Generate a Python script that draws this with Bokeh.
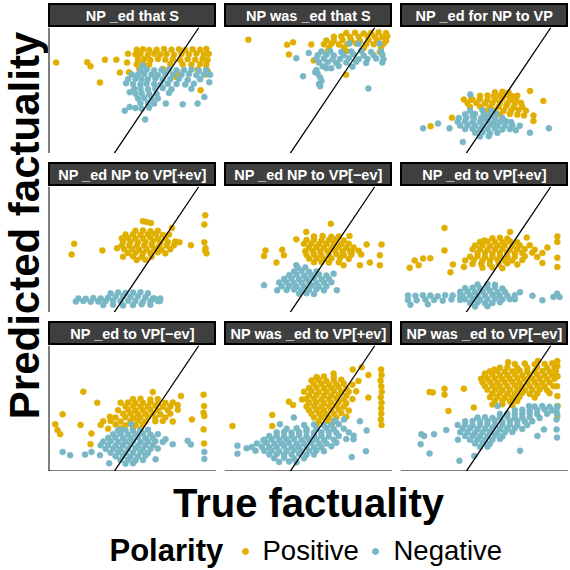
from bokeh.plotting import figure
from bokeh.layouts import row, column
from bokeh.models import Range1d, Slope, Span, Spacer
from bokeh.core.properties import value
from bokeh.embed import file_html
from bokeh.resources import INLINE

facets = [
    "NP _ed that S", "NP was _ed that S", "NP _ed for NP to VP",
    "NP _ed NP to VP[+ev]", "NP _ed NP to VP[\u2212ev]", "NP _ed to VP[+ev]",
    "NP _ed to VP[\u2212ev]", "NP was _ed to VP[+ev]", "NP was _ed to VP[\u2212ev]",
]
polarity = ["Positive", "Negative"]
colors = ["#E1AF00", "#78B7C5"]

# (true, predicted) pairs, one list per facet and polarity
p1_pos = [
    (-3.09, 1.70), (-1.84, 1.71), (-1.71, 1.60), (-1.13, 1.78), (-0.67, 1.78),
    (-1.33, 1.16), (-0.53, 1.43), (-0.20, 1.94), (0.20, 1.94), (-0.24, 1.70),
    (-0.16, 1.44), (1.73, 1.31), (2.72, 0.95),
    (0.15, 2.05), (0.40, 2.06), (0.65, 2.04), (0.95, 2.05), (1.25, 2.07), (1.55, 2.05),
    (1.85, 2.06), (2.10, 2.04), (2.40, 2.06), (2.70, 2.05), (2.95, 2.07),
    (0.10, 1.92), (0.30, 1.93), (0.60, 1.91), (0.85, 1.94), (1.10, 1.92), (1.35, 1.93),
    (1.65, 1.91), (1.95, 1.93), (2.25, 1.92), (2.55, 1.94), (2.85, 1.92), (3.05, 1.93),
    (0.20, 1.78), (0.45, 1.79), (0.70, 1.77), (1.00, 1.80), (1.30, 1.78), (1.60, 1.79),
    (1.90, 1.77), (2.20, 1.79), (2.50, 1.78), (2.80, 1.80), (3.00, 1.77),
    (0.15, 1.65), (0.40, 1.66), (0.65, 1.64), (1.50, 1.66), (2.00, 1.65), (2.35, 1.64),
    (2.70, 1.66), (2.95, 1.65),
    (0.25, 1.52), (1.20, 1.53), (2.60, 1.51), (2.95, 1.53), (3.02, 1.45), (2.95, 1.38),
    (1.80, 1.42),
]
p1_neg = [
    (0.30, 1.50), (0.55, 1.51), (0.85, 1.49), (1.15, 1.50), (1.45, 1.52), (1.75, 1.49),
    (2.05, 1.50), (2.35, 1.51), (2.65, 1.48), (2.95, 1.50),
    (-0.05, 1.38), (0.20, 1.37), (0.45, 1.39), (0.75, 1.38), (1.00, 1.36), (1.30, 1.39),
    (1.60, 1.38), (1.95, 1.37), (2.25, 1.39), (2.55, 1.36), (2.85, 1.38), (3.10, 1.37),
    (-0.20, 1.25), (0.10, 1.26), (0.35, 1.24), (0.60, 1.25), (0.90, 1.27), (1.20, 1.24),
    (1.50, 1.25), (1.85, 1.26), (2.20, 1.23), (2.70, 1.25),
    (0.00, 1.12), (0.30, 1.11), (0.55, 1.13), (0.85, 1.12), (1.10, 1.10), (1.40, 1.13),
    (1.75, 1.12), (2.10, 1.11), (2.45, 1.13),
    (0.05, 0.99), (0.30, 1.00), (0.60, 0.98), (0.90, 0.99), (1.20, 1.01), (1.55, 0.98),
    (2.35, 0.99),
    (0.10, 0.86), (0.35, 0.87), (0.65, 0.85), (0.95, 0.86), (1.45, 0.88),
    (0.20, 0.73), (0.45, 0.74), (0.75, 0.72), (1.00, 0.73),
    (0.30, 0.60), (0.60, 0.61), (0.85, 0.59),
    (0.10, 0.47), (0.35, 0.45), (0.65, 0.48),
    (0.49, 0.16), (-0.13, 0.50), (-0.33, 0.40), (3.07, 1.17), (2.87, 0.77), (2.60, 0.59),
    (2.00, 0.57), (1.32, 0.59), (-0.28, 1.14), (-0.13, 0.90), (0.40, 1.62),
]

p2_pos = [
    (-2.44, 2.32), (-0.88, 2.18), (-0.64, 2.25), (-0.81, 1.92), (0.09, 2.19),
    (0.19, 1.76), (1.49, 1.37),
    (1.50, 2.50), (1.85, 2.51), (2.20, 2.49), (2.50, 2.50), (2.80, 2.52), (3.10, 2.50),
    (1.00, 2.40), (1.30, 2.41), (1.65, 2.39), (2.00, 2.40), (2.35, 2.42), (2.65, 2.40),
    (2.95, 2.39), (3.15, 2.41),
    (0.70, 2.30), (1.00, 2.29), (1.35, 2.31), (1.70, 2.30), (2.05, 2.28), (2.40, 2.31),
    (2.75, 2.30), (3.10, 2.29),
    (0.60, 2.20), (0.90, 2.21), (1.20, 2.19), (1.55, 2.20), (1.90, 2.22), (2.30, 2.19),
    (2.60, 2.20), (3.00, 2.21),
    (0.80, 2.10), (1.40, 2.11), (2.20, 2.09), (2.90, 2.10),
    (0.75, 2.00), (1.50, 2.01), (2.85, 1.99),
]
p2_neg = [
    (1.63, 2.22), (1.99, 2.21), (2.84, 2.21),
    (0.50, 2.00), (0.85, 2.01), (1.30, 1.99), (1.70, 2.00), (2.10, 2.02), (2.50, 1.99), (2.90, 2.00),
    (0.35, 1.90), (0.70, 1.91), (1.00, 1.89), (1.40, 1.90), (1.80, 1.92), (2.20, 1.89),
    (2.60, 1.90), (2.95, 1.91),
    (0.30, 1.80), (0.60, 1.81), (0.95, 1.79), (1.25, 1.80), (1.60, 1.82), (2.00, 1.79),
    (2.35, 1.80), (2.70, 1.81), (3.00, 1.79),
    (0.40, 1.70), (0.75, 1.71), (1.10, 1.69), (1.50, 1.70), (1.90, 1.72), (2.30, 1.69), (2.95, 1.70),
    (0.55, 1.60), (1.20, 1.61), (1.75, 1.59),
    (0.30, 1.50), (0.35, 1.40), (0.45, 1.30), (0.50, 1.20), (0.40, 1.12), (0.70, 1.55), (0.90, 1.55),
    (-0.51, 1.82), (-0.01, 1.96), (-0.24, 1.33), (2.39, 1.00), (0.45, 1.06), (0.25, 1.44),
]

p3_pos = [
    (1.81, 0.93), (2.35, 0.66), (1.95, 0.27), (1.95, 0.12), (-1.33, 0.21), (-2.19, -0.02),
    (1.57, 0.27), (-0.85, 0.70), (-0.56, 0.70),
    (0.40, 0.90), (0.70, 0.91), (0.95, 0.89),
    (-0.20, 0.80), (0.10, 0.81), (0.35, 0.79), (0.60, 0.80), (0.85, 0.82), (1.10, 0.79), (1.30, 0.80),
    (-0.50, 0.70), (-0.20, 0.71), (0.10, 0.69), (0.40, 0.70), (0.70, 0.72), (1.00, 0.69), (1.25, 0.70),
    (-0.70, 0.60), (-0.35, 0.61), (0.00, 0.59), (0.30, 0.60), (0.60, 0.62), (0.90, 0.59),
    (1.20, 0.60), (1.45, 0.61),
    (-0.60, 0.50), (-0.20, 0.51), (0.20, 0.49), (0.55, 0.50), (0.85, 0.52), (1.15, 0.49), (1.50, 0.50),
    (0.00, 0.40), (0.40, 0.41), (0.75, 0.39), (1.05, 0.40), (1.35, 0.42), (1.65, 0.40),
    (0.60, 0.30), (1.00, 0.31), (1.30, 0.29),
]
p3_neg = [
    (-0.60, 0.40), (-0.10, 0.41), (0.25, 0.39),
    (-0.80, 0.30), (-0.40, 0.31), (-0.05, 0.29), (0.20, 0.30), (0.45, 0.32),
    (-1.05, 0.20), (-0.75, 0.21), (-0.45, 0.19), (-0.15, 0.20), (0.15, 0.22), (0.40, 0.19), (0.70, 0.20),
    (-1.10, 0.10), (-0.80, 0.11), (-0.50, 0.09), (-0.20, 0.10), (0.10, 0.12), (0.35, 0.09),
    (0.60, 0.10), (0.85, 0.11), (1.05, 0.09),
    (-1.00, 0.00), (-0.70, 0.01), (-0.40, -0.01), (-0.10, 0.00), (0.20, 0.02), (0.50, -0.01),
    (0.80, 0.00), (1.10, 0.01), (1.40, -0.01),
    (-0.80, -0.10), (-0.50, -0.09), (-0.20, -0.11), (0.10, -0.10), (0.40, -0.08), (0.70, -0.11), (1.00, -0.10),
    (-0.40, -0.20), (-0.10, -0.19), (0.20, -0.21), (0.50, -0.20),
    (-0.20, -0.30), (0.15, -0.29),
    (-2.49, -0.08), (-1.89, 0.05), (-1.43, -0.08), (-0.59, 0.84), (-0.89, -0.45), (2.57, -0.08),
    (1.81, -0.20), (1.24, -0.13), (-0.05, 0.18), (-0.49, 0.27),
]

p4_pos = [
    (-2.47, 0.81), (-2.37, 1.10), (-1.23, 0.92), (-0.64, 0.98), (2.91, 1.87), (2.87, 1.62),
    (2.87, 1.14), (2.92, 0.98), (2.96, 0.84), (2.90, 0.92), (1.87, 1.14), (2.33, 1.06),
    (1.57, 1.53), (0.40, 1.71), (0.72, 1.66), (0.55, 1.69),
    (0.10, 1.45), (0.40, 1.46), (0.70, 1.44), (1.00, 1.45),
    (-0.30, 1.35), (0.00, 1.36), (0.30, 1.34), (0.60, 1.35), (0.90, 1.37), (1.20, 1.34), (1.45, 1.35),
    (-0.45, 1.25), (-0.20, 1.26), (0.10, 1.24), (0.40, 1.25), (0.70, 1.27), (1.00, 1.24), (1.30, 1.25),
    (-0.40, 1.15), (-0.10, 1.16), (0.20, 1.14), (0.50, 1.15), (0.80, 1.17), (1.10, 1.14),
    (1.40, 1.15), (1.70, 1.16),
    (-0.45, 1.05), (-0.15, 1.06), (0.15, 1.04), (0.45, 1.05), (0.75, 1.07), (1.05, 1.04),
    (1.35, 1.05), (1.65, 1.06),
    (-0.35, 0.95), (-0.05, 0.96), (0.25, 0.94), (0.55, 0.95), (0.85, 0.97), (1.15, 0.94), (1.50, 0.95),
    (-0.20, 0.85), (0.10, 0.86), (0.40, 0.84), (0.70, 0.85), (1.00, 0.87), (1.30, 0.84),
    (-0.40, 0.75), (0.00, 0.76), (0.35, 0.74), (0.75, 0.75),
    (0.15, 0.66), (0.50, 0.67),
]
p4_neg = [
    (-0.90, -0.24), (-0.60, -0.22), (-0.30, -0.23), (0.00, -0.22), (0.30, -0.21), (0.60, -0.24),
    (-2.20, -0.38), (-1.90, -0.39), (-1.60, -0.37), (-1.30, -0.38), (-1.00, -0.36), (-0.70, -0.33),
    (-0.40, -0.32), (-0.10, -0.34), (0.20, -0.32), (0.50, -0.35), (0.80, -0.38), (1.10, -0.38),
    (-2.30, -0.46), (-2.00, -0.45), (-1.70, -0.47), (-1.40, -0.46), (-1.10, -0.45), (-0.80, -0.44),
    (-0.50, -0.45), (-0.20, -0.44), (0.10, -0.45), (0.40, -0.47), (0.70, -0.46), (1.00, -0.45),
    (-1.20, -0.56), (-0.80, -0.55), (-0.40, -0.57), (0.00, -0.56), (0.35, -0.54), (0.70, -0.55),
    (0.87, -0.38), (1.08, -0.45),
]

p5_pos = [
    (0.88, 1.64), (-0.11, 1.42), (-0.51, 1.22), (-1.08, 0.94), (-1.75, 0.92), (-1.81, 0.77),
    (-1.31, 0.59), (-1.01, 0.79), (1.63, 1.31), (2.32, 1.08), (2.92, 1.08), (2.85, 0.79),
    (2.85, 0.52), (2.45, 0.59), (2.05, 0.52), (1.72, 0.88), (1.39, 0.52),
    (0.20, 1.30), (0.55, 1.31), (0.90, 1.29), (1.20, 1.30),
    (-0.10, 1.20), (0.20, 1.21), (0.50, 1.19), (0.80, 1.20), (1.10, 1.22), (1.40, 1.19),
    (-0.20, 1.10), (0.10, 1.11), (0.40, 1.09), (0.70, 1.10), (1.00, 1.12), (1.30, 1.09), (1.60, 1.10),
    (0.00, 1.00), (0.30, 1.01), (0.60, 0.99), (0.90, 1.00), (1.20, 1.02), (1.50, 0.99), (1.80, 1.00),
    (-0.15, 0.90), (0.15, 0.91), (0.45, 0.89), (0.75, 0.90), (1.05, 0.92), (1.35, 0.89),
    (1.65, 0.90), (2.00, 0.91),
    (-0.10, 0.80), (0.20, 0.81), (0.50, 0.79), (0.80, 0.80), (1.10, 0.82), (1.40, 0.79),
    (1.70, 0.80), (2.10, 0.81),
    (0.00, 0.70), (0.30, 0.71), (0.60, 0.69), (0.90, 0.70), (1.25, 0.72), (1.60, 0.69),
    (0.20, 0.60), (0.50, 0.61), (0.80, 0.59), (1.20, 0.60),
]
p5_neg = [
    (-0.45, 0.45), (-0.15, 0.46),
    (-0.60, 0.35), (-0.30, 0.36), (0.00, 0.34), (0.30, 0.35),
    (-0.80, 0.25), (-0.50, 0.26), (-0.20, 0.24), (0.10, 0.25), (0.40, 0.27), (0.70, 0.24),
    (-1.00, 0.15), (-0.70, 0.16), (-0.40, 0.14), (-0.10, 0.15), (0.20, 0.17), (0.50, 0.14), (0.80, 0.15),
    (-1.20, 0.05), (-0.90, 0.06), (-0.60, 0.04), (-0.30, 0.05), (0.00, 0.07), (0.30, 0.04),
    (0.60, 0.05), (0.90, 0.06),
    (-1.10, -0.05), (-0.80, -0.04), (-0.50, -0.06), (-0.20, -0.05), (0.10, -0.03), (0.40, -0.06), (0.70, -0.05),
    (-0.90, -0.15), (-0.60, -0.14), (-0.30, -0.16), (0.00, -0.15), (0.30, -0.13), (0.60, -0.16),
    (-0.40, -0.25), (-0.10, -0.24), (0.20, -0.26),
    (-1.81, -0.02), (-1.28, -0.16), (-0.51, 0.52), (0.99, 0.29), (1.12, -0.16),
]

p6_pos = [
    (-1.63, 1.53), (-1.63, 0.92), (-3.03, 0.45), (-2.83, 0.65), (-2.49, 0.70), (-2.20, 0.71),
    (-2.67, 0.52), (-1.29, 0.54), (-1.39, 0.33), (-0.85, 0.47), (-0.03, 1.19), (1.01, 1.42),
    (1.68, 1.27), (2.51, 1.00), (2.91, 1.30), (2.91, 1.15), (2.91, 0.72), (2.91, 0.47),
    (2.31, 0.85), (2.31, 0.58),
    (0.30, 1.25), (0.60, 1.26), (0.90, 1.24),
    (-0.20, 1.15), (0.10, 1.16), (0.40, 1.14), (0.70, 1.15), (1.00, 1.17), (1.30, 1.14),
    (-0.40, 1.05), (-0.10, 1.06), (0.20, 1.04), (0.50, 1.05), (0.80, 1.07), (1.10, 1.04),
    (1.40, 1.05), (1.80, 1.06),
    (-0.50, 0.95), (-0.20, 0.96), (0.10, 0.94), (0.40, 0.95), (0.70, 0.97), (1.00, 0.94),
    (1.30, 0.95), (1.60, 0.96), (2.00, 0.94),
    (-0.30, 0.85), (0.00, 0.86), (0.30, 0.84), (0.60, 0.85), (0.90, 0.87), (1.20, 0.84),
    (1.50, 0.85), (1.90, 0.86),
    (-0.60, 0.75), (-0.30, 0.76), (0.00, 0.74), (0.30, 0.75), (0.60, 0.77), (0.90, 0.74),
    (1.20, 0.75), (1.60, 0.76), (2.10, 0.74),
    (-0.80, 0.65), (-0.45, 0.66), (-0.10, 0.64), (0.20, 0.65), (0.50, 0.67), (0.80, 0.64),
    (1.10, 0.65), (1.50, 0.66),
    (-0.50, 0.55), (-0.15, 0.56), (0.20, 0.54), (0.55, 0.55), (0.90, 0.57), (1.30, 0.54),
    (-0.10, 0.45), (0.30, 0.46), (0.70, 0.44),
]
p6_neg = [
    (-3.10, -0.30), (-2.80, -0.31), (-2.50, -0.29), (-2.20, -0.30), (-1.90, -0.32), (-1.60, -0.29),
    (-1.30, -0.30), (-1.00, -0.31),
    (-3.10, -0.42), (-2.75, -0.43), (-2.40, -0.41), (-2.05, -0.42), (-1.70, -0.44), (-1.35, -0.41),
    (-1.00, -0.42),
    (-3.00, -0.55), (-2.30, -0.54),
    (-0.30, 0.00), (0.10, 0.01), (0.40, -0.01),
    (-0.80, -0.10), (-0.50, -0.09), (-0.20, -0.11), (0.10, -0.10), (0.40, -0.08), (0.70, -0.11),
    (-1.00, -0.20), (-0.70, -0.19), (-0.40, -0.21), (-0.10, -0.20), (0.20, -0.18), (0.50, -0.21), (0.80, -0.20),
    (-0.90, -0.30), (-0.60, -0.29), (-0.30, -0.31), (0.00, -0.30), (0.30, -0.28), (0.60, -0.31),
    (0.90, -0.30), (1.20, -0.29),
    (-0.80, -0.40), (-0.50, -0.39), (-0.20, -0.41), (0.10, -0.40), (0.40, -0.38), (0.70, -0.41), (1.00, -0.40),
    (-0.60, -0.50), (-0.30, -0.49), (0.00, -0.51), (0.30, -0.50), (0.60, -0.48),
    (-0.40, -0.60), (0.10, -0.59),
    (1.41, -0.21), (1.91, -0.31), (2.31, -0.43), (2.75, -0.34), (2.90, -0.25), (3.00, -0.34), (1.20, -0.40),
]

p7_pos = [
    (-2.00, 1.40), (-2.83, 0.79), (-3.13, 0.52), (-3.04, 0.36), (-2.93, 0.25), (-2.11, 0.50),
    (-1.44, 1.10), (-0.93, 0.72), (-1.67, 0.27), (-1.71, -0.02), (0.80, 1.39), (1.93, 1.28),
    (2.84, 1.32), (2.86, 1.01), (2.84, 0.83), (2.87, 0.74), (2.84, 0.38), (2.86, 0.00),
    (2.37, 0.65), (1.80, 1.04),
    (0.00, 1.20), (0.30, 1.21), (0.70, 1.19), (1.00, 1.20),
    (-0.50, 1.10), (-0.20, 1.11), (0.10, 1.09), (0.40, 1.10), (0.70, 1.12), (1.00, 1.09),
    (1.30, 1.10), (1.60, 1.11),
    (-0.30, 1.00), (0.00, 1.01), (0.30, 0.99), (0.60, 1.00), (0.90, 1.02), (1.20, 0.99), (1.50, 1.00),
    (-0.60, 0.90), (-0.20, 0.91), (0.10, 0.89), (0.40, 0.90), (0.70, 0.92), (1.00, 0.89),
    (1.40, 0.90), (1.80, 0.91),
    (-0.40, 0.80), (-0.10, 0.81), (0.20, 0.79), (0.50, 0.80), (0.80, 0.82), (1.10, 0.79), (1.50, 0.80),
    (-0.70, 0.70), (-0.30, 0.71), (0.00, 0.69), (0.30, 0.70), (0.60, 0.72), (0.90, 0.69), (1.30, 0.70),
    (-1.20, 0.60), (-0.90, 0.61), (-0.50, 0.59), (-0.10, 0.60), (0.20, 0.62), (0.50, 0.59),
    (0.90, 0.60), (1.20, 0.61), (1.60, 0.59),
    (-1.30, 0.50), (-0.70, 0.51), (-0.30, 0.49), (0.10, 0.50), (0.40, 0.52),
    (-1.00, 0.40), (-0.50, 0.41), (0.00, 0.39), (0.30, 0.40),
]
p7_neg = [
    (-0.60, 0.35), (-0.30, 0.36), (0.00, 0.34), (0.30, 0.35), (0.60, 0.37),
    (-0.80, 0.25), (-0.50, 0.26), (-0.20, 0.24), (0.10, 0.25), (0.40, 0.27), (0.70, 0.24), (1.00, 0.25),
    (-1.00, 0.15), (-0.70, 0.16), (-0.40, 0.14), (-0.10, 0.15), (0.20, 0.17), (0.50, 0.14), (0.80, 0.15),
    (-1.20, 0.05), (-0.90, 0.06), (-0.60, 0.04), (-0.30, 0.05), (0.00, 0.07), (0.30, 0.04),
    (0.60, 0.05), (0.90, 0.06), (1.20, 0.04),
    (-1.30, -0.05), (-1.00, -0.04), (-0.70, -0.06), (-0.40, -0.05), (-0.10, -0.03), (0.20, -0.06),
    (0.50, -0.05), (0.80, -0.04),
    (-1.10, -0.15), (-0.80, -0.14), (-0.50, -0.16), (-0.20, -0.15), (0.10, -0.13), (0.40, -0.16),
    (0.70, -0.15), (1.00, -0.14),
    (-0.90, -0.25), (-0.60, -0.24), (-0.30, -0.26), (0.00, -0.25), (0.30, -0.23), (0.60, -0.26),
    (-0.70, -0.35), (-0.40, -0.34), (-0.10, -0.36), (0.20, -0.35), (0.50, -0.33),
    (-0.50, -0.45), (-0.20, -0.44), (0.10, -0.46), (0.40, -0.45),
    (-0.30, -0.55), (0.00, -0.54),
    (-2.83, -0.23), (-2.53, -0.32), (-1.93, -0.30), (-1.67, -0.23), (-1.33, -0.32), (-0.96, -0.54),
    (2.20, 0.07), (2.33, -0.03), (2.87, -0.23), (2.87, -0.42), (0.91, -0.43), (1.60, -0.02),
    (1.31, 0.11), (-0.07, 0.52), (-0.53, 0.38),
]

p8_pos = [
    (-3.08, 0.47), (-1.48, 0.77), (-1.48, 0.47), (-0.81, 1.13), (-0.64, 1.04), (-0.28, 1.19),
    (0.32, 1.78), (0.99, 1.89), (1.76, 2.00), (2.12, 2.06), (1.99, 1.69), (2.39, 1.85), (2.39, 1.24),
    (2.90, 2.00), (2.92, 1.85), (2.88, 1.70), (2.91, 1.55), (2.93, 1.40), (2.89, 1.25),
    (2.92, 1.10), (2.90, 0.95), (2.91, 0.80), (2.89, 0.65), (2.92, 0.50),
    (0.30, 1.80), (0.60, 1.81), (1.00, 1.79),
    (0.10, 1.70), (0.40, 1.71), (0.70, 1.69), (1.00, 1.70), (1.30, 1.72),
    (0.20, 1.60), (0.50, 1.61), (0.80, 1.59), (1.10, 1.60), (1.40, 1.62), (1.75, 1.59),
    (0.00, 1.50), (0.30, 1.51), (0.60, 1.49), (0.90, 1.50), (1.20, 1.52), (1.50, 1.49),
    (-0.20, 1.40), (0.10, 1.41), (0.40, 1.39), (0.70, 1.40), (1.00, 1.42), (1.30, 1.39),
    (1.60, 1.40), (1.90, 1.41),
    (0.00, 1.30), (0.30, 1.31), (0.60, 1.29), (0.90, 1.30), (1.20, 1.32), (1.50, 1.29),
    (-0.10, 1.20), (0.20, 1.21), (0.50, 1.19), (0.80, 1.20), (1.10, 1.22), (1.40, 1.19), (1.75, 1.20),
    (0.00, 1.10), (0.30, 1.11), (0.60, 1.09), (0.90, 1.10), (1.20, 1.12), (1.50, 1.09),
    (-0.10, 1.00), (0.20, 1.01), (0.50, 0.99), (0.80, 1.00), (1.10, 1.02), (1.40, 0.99),
    (0.00, 0.90), (0.30, 0.91), (0.60, 0.89), (0.90, 0.90), (1.20, 0.92), (1.60, 0.89),
    (0.10, 0.80), (0.40, 0.81), (0.70, 0.79), (1.00, 0.80), (1.30, 0.82),
    (0.20, 0.70), (0.50, 0.71), (0.80, 0.69), (1.10, 0.70), (1.50, 0.72),
    (0.40, 0.60), (0.70, 0.61), (1.00, 0.59),
    (0.30, 0.50), (0.90, 0.51),
]
p8_neg = [
    (-0.20, 0.50), (0.20, 0.51), (0.60, 0.49), (0.90, 0.50), (1.20, 0.52),
    (-0.90, 0.40), (-0.50, 0.41), (-0.10, 0.39), (0.30, 0.40), (0.70, 0.42), (1.00, 0.39), (1.40, 0.40),
    (-1.30, 0.30), (-1.00, 0.31), (-0.70, 0.29), (-0.40, 0.30), (-0.10, 0.32), (0.20, 0.29),
    (0.50, 0.30), (0.80, 0.31), (1.10, 0.29), (1.60, 0.30),
    (-1.60, 0.20), (-1.30, 0.21), (-1.00, 0.19), (-0.70, 0.20), (-0.40, 0.22), (-0.10, 0.19),
    (0.20, 0.20), (0.50, 0.21), (0.80, 0.19), (1.20, 0.20), (1.80, 0.21),
    (-1.80, 0.10), (-1.50, 0.11), (-1.20, 0.09), (-0.90, 0.10), (-0.60, 0.12), (-0.30, 0.09),
    (0.00, 0.10), (0.30, 0.11), (0.60, 0.09), (1.00, 0.10), (1.50, 0.12),
    (-2.10, 0.00), (-1.70, 0.01), (-1.40, -0.01), (-1.10, 0.00), (-0.80, 0.02), (-0.50, -0.01),
    (-0.20, 0.00), (0.10, 0.01), (0.40, -0.01), (0.70, 0.00), (1.10, 0.02),
    (-2.30, -0.10), (-1.90, -0.09), (-1.60, -0.11), (-1.30, -0.10), (-1.00, -0.08), (-0.70, -0.11),
    (-0.40, -0.10), (-0.10, -0.09), (0.20, -0.11), (0.50, -0.10), (0.90, -0.08),
    (-1.80, -0.20), (-1.50, -0.19), (-1.20, -0.21), (-0.90, -0.20), (-0.60, -0.18), (-0.30, -0.21),
    (0.00, -0.20), (0.30, -0.19), (0.60, -0.21),
    (-1.60, -0.30), (-1.30, -0.29), (-1.00, -0.31), (-0.70, -0.30), (-0.40, -0.28), (-0.10, -0.31), (0.20, -0.30),
    (-1.40, -0.40), (-1.00, -0.39), (-0.60, -0.41), (-0.20, -0.40),
    (-1.20, -0.50), (-0.80, -0.49), (-0.50, -0.51),
    (-2.88, -0.06), (-2.88, -0.28), (-2.51, -0.13), (-2.15, -0.20), (-1.84, 0.08), (-1.17, 0.52),
    (-0.61, 0.70), (2.32, 0.35), (2.29, -0.21), (1.72, -0.37), (1.79, 0.11), (1.05, 0.62),
    (1.41, 0.65), (2.05, 0.60),
]

p9_pos = [
    (-2.23, 1.39), (-2.10, 1.38), (-1.63, 1.48), (-1.63, 1.32), (-0.85, 1.48), (-1.47, 0.88),
    (-0.45, 0.97), (0.00, 1.89), (-0.16, 1.75), (0.37, 2.00), (0.93, 2.20), (2.13, 2.23),
    (2.91, 2.23), (2.91, 2.09), (2.92, 1.82), (2.90, 1.55), (2.91, 1.28), (2.92, 1.01), (2.91, 0.74),
    (1.20, 2.15), (1.60, 2.16), (2.00, 2.14), (2.40, 2.15), (2.70, 2.17),
    (0.60, 2.05), (0.90, 2.06), (1.30, 2.04), (1.70, 2.05), (2.10, 2.07), (2.50, 2.04), (2.80, 2.05),
    (0.20, 1.95), (0.50, 1.96), (0.80, 1.94), (1.10, 1.95), (1.40, 1.97), (1.70, 1.94),
    (2.00, 1.95), (2.30, 1.96), (2.60, 1.94), (2.85, 1.95),
    (0.00, 1.85), (0.30, 1.86), (0.60, 1.84), (0.90, 1.85), (1.20, 1.87), (1.50, 1.84),
    (1.80, 1.85), (2.10, 1.86), (2.40, 1.84), (2.70, 1.85),
    (0.10, 1.75), (0.40, 1.76), (0.70, 1.74), (1.00, 1.75), (1.30, 1.77), (1.60, 1.74),
    (1.90, 1.75), (2.20, 1.76), (2.50, 1.74), (2.80, 1.75),
    (-0.10, 1.65), (0.20, 1.66), (0.50, 1.64), (0.80, 1.65), (1.10, 1.67), (1.40, 1.64),
    (1.70, 1.65), (2.00, 1.66), (2.30, 1.64), (2.60, 1.65),
    (0.00, 1.55), (0.30, 1.56), (0.60, 1.54), (0.90, 1.55), (1.20, 1.57), (1.50, 1.54),
    (1.80, 1.55), (2.10, 1.56), (2.40, 1.54), (2.75, 1.55),
    (0.10, 1.45), (0.40, 1.46), (0.70, 1.44), (1.00, 1.45), (1.30, 1.47), (1.60, 1.44),
    (1.90, 1.45), (2.20, 1.46), (2.50, 1.44),
    (0.30, 1.35), (0.60, 1.36), (0.90, 1.34), (1.20, 1.35), (1.50, 1.37), (1.80, 1.34),
    (2.10, 1.35), (2.60, 1.36),
    (0.20, 1.25), (0.50, 1.26), (0.80, 1.24), (1.10, 1.25), (1.40, 1.27), (2.00, 1.24),
    (0.40, 1.15), (0.70, 1.16), (1.00, 1.14), (1.30, 1.15),
    (0.30, 1.05), (0.70, 1.06), (1.10, 1.04),
]
p9_neg = [
    (2.00, 1.00), (2.30, 1.01), (2.60, 0.99), (2.90, 1.00),
    (1.20, 0.90), (1.50, 0.91), (1.80, 0.89), (2.10, 0.90), (2.40, 0.92), (2.70, 0.89),
    (0.60, 0.80), (0.90, 0.81), (1.20, 0.79), (1.50, 0.80), (1.80, 0.82), (2.10, 0.79),
    (2.50, 0.80), (2.90, 0.81),
    (-0.30, 0.70), (0.00, 0.71), (0.30, 0.69), (0.60, 0.70), (0.90, 0.72), (1.20, 0.69),
    (1.50, 0.70), (1.80, 0.71), (2.20, 0.69),
    (-0.80, 0.60), (-0.50, 0.61), (-0.20, 0.59), (0.10, 0.60), (0.40, 0.62), (0.70, 0.59),
    (1.00, 0.60), (1.30, 0.61), (1.60, 0.59), (1.90, 0.60),
    (-1.10, 0.50), (-0.80, 0.51), (-0.50, 0.49), (-0.20, 0.50), (0.10, 0.52), (0.40, 0.49),
    (0.70, 0.50), (1.00, 0.51), (1.30, 0.49), (1.70, 0.50),
    (-0.90, 0.40), (-0.60, 0.41), (-0.30, 0.39), (0.00, 0.40), (0.30, 0.42), (0.60, 0.39),
    (0.90, 0.40), (1.20, 0.41), (1.50, 0.39),
    (-1.00, 0.30), (-0.70, 0.31), (-0.40, 0.29), (-0.10, 0.30), (0.20, 0.32), (0.50, 0.29),
    (0.80, 0.30), (1.10, 0.31),
    (-0.80, 0.20), (-0.50, 0.21), (-0.20, 0.19), (0.10, 0.20), (0.40, 0.22), (0.70, 0.19),
    (-0.60, 0.10), (-0.30, 0.11), (0.00, 0.09), (0.30, 0.10), (0.60, 0.12),
    (-0.40, 0.00), (-0.10, 0.01), (0.20, -0.01),
    (-0.20, -0.10), (0.10, -0.09),
    (-2.56, 0.25), (-2.45, 0.20), (-2.05, 0.25), (-2.59, -0.02), (-2.23, -0.27), (-1.56, 0.36),
    (-1.09, 0.10), (-1.03, -0.47), (-0.43, -0.34), (1.41, -0.20), (0.51, 1.01), (1.77, 1.01),
    (2.88, 0.94), (2.88, 0.65), (2.88, 0.38), (2.90, 0.16), (2.37, 0.38), (2.11, 0.20),
]

facet_points = [
    (p1_pos, p1_neg), (p2_pos, p2_neg), (p3_pos, p3_neg),
    (p4_pos, p4_neg), (p5_pos, p5_neg), (p6_pos, p6_neg),
    (p7_pos, p7_neg), (p8_pos, p8_neg), (p9_pos, p9_neg),
]

X_LO, X_HI = -3.4, 3.36
Y_LO, Y_HI = -0.76, 2.65
FONT = "Liberation Sans"
PW, PH, SH = 168, 126, 24
GAP_X, GAP_Y = 8, 9


def strip_figure(label):
    s = figure(width=PW, height=SH, x_range=Range1d(-1, 1), y_range=Range1d(-1, 1),
               min_border=0, toolbar_location=None, output_backend="svg",
               x_axis_location=None, y_axis_location=None,
               background_fill_color="#3F3F3F", border_fill_color="#3F3F3F",
               outline_line_color="black", outline_line_width=3)
    s.grid.visible = False
    s.text(x=[0], y=[0], text=[label], text_align="center", text_baseline="middle",
           text_color="white", text_font=value(FONT), text_font_style="bold",
           text_font_size="14.5px")
    return s


def panel_figure(pos, neg, left_line, bottom_line):
    p = figure(width=PW, height=PH, x_range=Range1d(X_LO, X_HI), y_range=Range1d(Y_LO, Y_HI),
               min_border=0, toolbar_location=None, output_backend="svg",
               x_axis_location=None, y_axis_location=None, outline_line_color=None)
    p.grid.visible = False
    for pts, col in zip((pos, neg), colors):
        p.scatter(x=[a for a, b in pts], y=[b for a, b in pts], size=6,
                  fill_color=col, line_color=col, line_width=0.5)
    p.add_layout(Slope(gradient=1, y_intercept=0, line_color="black", line_width=1.3))
    if left_line:
        p.add_layout(Span(location=X_LO, dimension="height", line_color="black", line_width=2))
    if bottom_line:
        p.add_layout(Span(location=Y_LO, dimension="width", line_color="black", line_width=2))
    return p


grid_rows = []
for r in range(3):
    cells = []
    for c in range(3):
        i = r * 3 + c
        pos, neg = facet_points[i]
        cells.append(column(strip_figure(facets[i]),
                            panel_figure(pos, neg, c == 0, r == 2), spacing=0))
    grid_rows.append(row(cells, spacing=GAP_X))
grid = column(grid_rows, spacing=GAP_Y)

GRID_H = 3 * (SH + PH) + 2 * GAP_Y
YW = 48
ylab = figure(width=YW, height=GRID_H, x_range=Range1d(0, YW), y_range=Range1d(0, GRID_H),
              min_border=0, toolbar_location=None, output_backend="svg",
              x_axis_location=None, y_axis_location=None, outline_line_color=None)
ylab.grid.visible = False
ylab.text(x=[24], y=[GRID_H - 222], text=["Predicted factuality"], angle=1.5708,
          text_align="center", text_baseline="middle", text_color="black",
          text_font=value(FONT), text_font_style="bold", text_font_size="42px")

BW, BH = YW + 3 * PW + 2 * GAP_X, 99
bottom = figure(width=BW, height=BH, x_range=Range1d(0, BW), y_range=Range1d(0, BH),
                min_border=0, toolbar_location=None, output_backend="svg",
                x_axis_location=None, y_axis_location=None, outline_line_color=None)
bottom.grid.visible = False
bottom.text(x=[308], y=[BH - 31], text=["True factuality"], text_align="center",
            text_baseline="middle", text_color="black", text_font=value(FONT),
            text_font_style="bold", text_font_size="40px")
bottom.text(x=[109], y=[BH - 79], text=["Polarity"], text_align="left",
            text_baseline="middle", text_color="black", text_font=value(FONT),
            text_font_style="bold", text_font_size="31px")
bottom.scatter(x=[245, 375], y=[BH - 80, BH - 80], size=6, fill_color=colors,
               line_color=colors)
bottom.text(x=[262, 393], y=[BH - 79, BH - 79], text=polarity, text_align="left",
            text_baseline="middle", text_color="black", text_font=value(FONT),
            text_font_size="27.5px")

page = column(Spacer(height=3), row(ylab, grid, spacing=0), bottom, spacing=0)

open("out.html", "w").write(file_html(page, INLINE))
